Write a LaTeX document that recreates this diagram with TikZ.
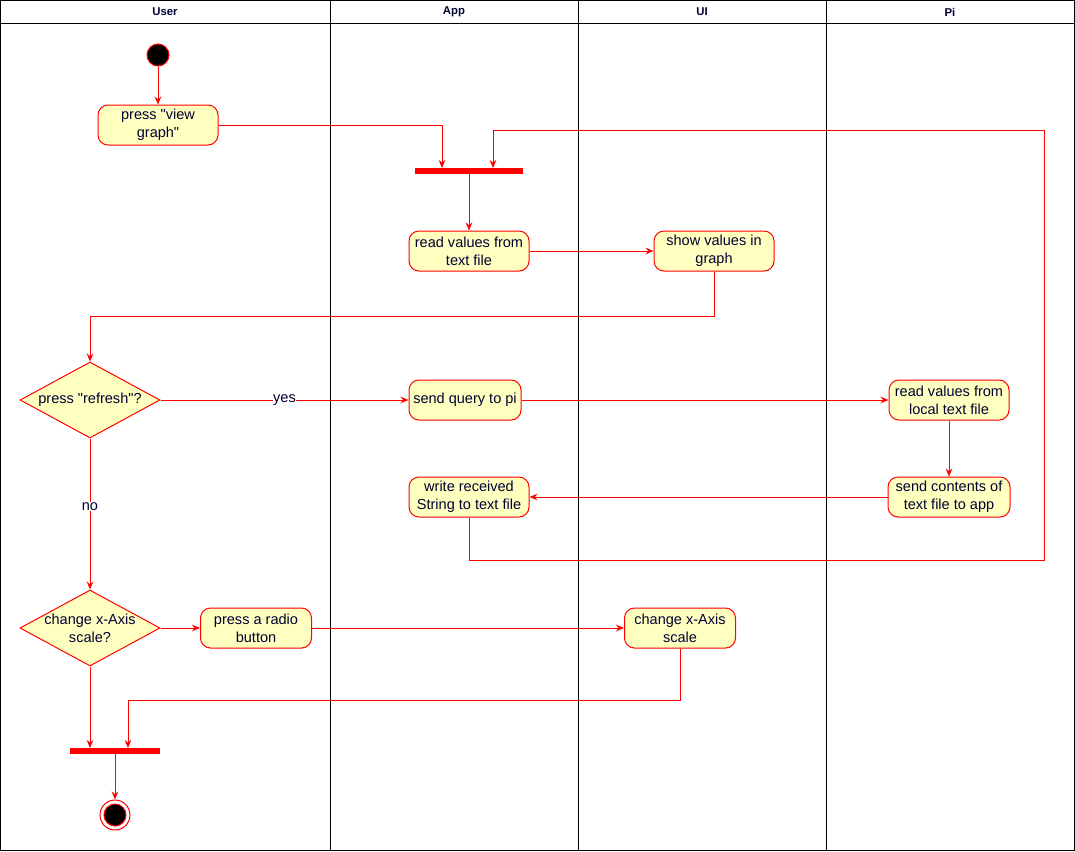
\documentclass[tikz,border=0pt]{standalone}
\usepackage{fontspec}
\setmainfont[Ligatures=TeXOff]{Liberation Sans}
\usetikzlibrary{shapes.geometric, arrows.meta}

\definecolor{actfill}{HTML}{FFFFC0}
\definecolor{actline}{HTML}{FF0000}
\definecolor{acttext}{HTML}{000033}

\tikzset{
  actfont/.style  = {font = \fontsize{10.9}{13.5}\selectfont},
  activity/.style = {shape = rectangle, rounded corners = 7.5pt, draw = actline, fill = actfill,
                     text = acttext, minimum width = 90pt, minimum height = 30pt,
                     align = center, inner sep = 1pt, actfont},
  decision/.style = {shape = diamond, aspect = 1.84, draw = actline, fill = actfill,
                     text = acttext, minimum width = 105pt, minimum height = 57pt,
                     inner sep = 0pt, align = center, actfont},
  syncbar/.style  = {shape = rectangle, fill = actline, minimum width = 81pt,
                     minimum height = 3.8pt, inner sep = 0pt},
  startdot/.style = {shape = circle, draw = actline, fill = black, minimum size = 16.5pt, inner sep = 0pt},
  stopring/.style = {shape = circle, draw = actline, fill = white, minimum size = 22.5pt, inner sep = 0pt},
  flow/.style     = {draw = actline, line width = 0.75pt, -{Stealth[length = 6pt, width = 5pt, inset = 2pt]}},
  guard/.style    = {fill = white, text = acttext, inner sep = 0.5pt, actfont},
  lanehead/.style = {text = acttext, font = \bfseries\fontsize{8.5}{10}\selectfont},
}

\begin{document}
\begin{tikzpicture}[x = 0.75pt, y = -0.75pt, line width = 0.75pt]
        \useasboundingbox (0, 0) rectangle (1075, 851);

        % ------------------------------------------------------------------------
        % Swimlanes
        \draw (0.5, 0.5) rectangle (1074.5, 850.5);
        \draw (0.5, 23) -- (1074.5, 23);
        \draw (330, 0.5) -- (330, 850.5);
        \draw (578, 0.5) -- (578, 850.5);
        \draw (826, 0.5) -- (826, 850.5);

        \node[lanehead] at (165, 12) (huser) {User};
        \node[lanehead] at (454, 12) (happ)  {App};
        \node[lanehead] at (702, 12) (hui)   {UI};
        \node[lanehead] at (950, 12) (hpi)   {Pi};

        % ------------------------------------------------------------------------
        % Nodes
        \node[startdot] at (158, 55) (start) {};
        \node[activity] at (158, 125) (viewgraph) {press "view\\graph"};

        \node[syncbar] at (469, 171) (fork) {};
        \node[activity] at (469, 251) (readtxt) {read values from\\text file};
        \node[activity] at (714, 251) (showgraph) {show values in\\graph};

        \node[decision] at (90, 400) (refresh) {press "refresh"?};
        \node[activity, minimum width = 84pt] at (465, 400) (query) {send query to pi};
        \node[activity] at (949, 400) (readlocal) {read values from\\local text file};
        \node[activity, minimum width = 91.5pt] at (949, 497) (sendback) {send contents of\\text file to app};
        \node[activity] at (469, 497) (writetxt) {write received\\String to text file};

        \node[decision, inner sep = -6pt] at (90, 628) (axis) {change x-Axis\\scale?};
        \node[activity, minimum width = 83.25pt] at (256, 628) (radio) {press a radio\\button};
        \node[activity, minimum width = 83.25pt] at (680, 628) (scale) {change x-Axis\\scale};

        \node[syncbar, minimum width = 67.5pt] at (115, 751) (join) {};
        \node[stopring] at (115, 815) (stop) {};
        \node[startdot] at (115, 815) (stopdot) {};

        % ------------------------------------------------------------------------
        % Flows
        \draw[flow] (start) -- (viewgraph);
        \draw[flow] (viewgraph.east) -| ([xshift = -20.25pt]fork.north);
        \draw[flow] (fork) -- (readtxt);
        \draw[flow] (readtxt) -- (showgraph);
        \draw[flow] (showgraph.south) -- (714, 316) -| (refresh.north);

        \draw[flow] (refresh) -- node[guard] {yes} (query);
        \draw[flow] (query) -- (readlocal);
        \draw[flow] (readlocal) -- (sendback);
        \draw[flow] (sendback) -- (writetxt);
        \draw[flow] (writetxt.south) -- (469, 560) -- (1044, 560) -- (1044, 130)
          -| ([xshift = 18pt]fork.north);

        \draw[flow] (refresh) -- node[guard, pos = 0.45] {no} (axis);
        \draw[flow] (axis) -- (radio);
        \draw[flow] (radio) -- (scale);
        \draw[flow] (scale.south) -- (680, 700) -| ([xshift = 9.75pt]join.north);
        \draw[flow] (axis.south) -- (axis.south |- join.north);
        \draw[flow] (join) -- (stop);
      \end{tikzpicture}
\end{document}
